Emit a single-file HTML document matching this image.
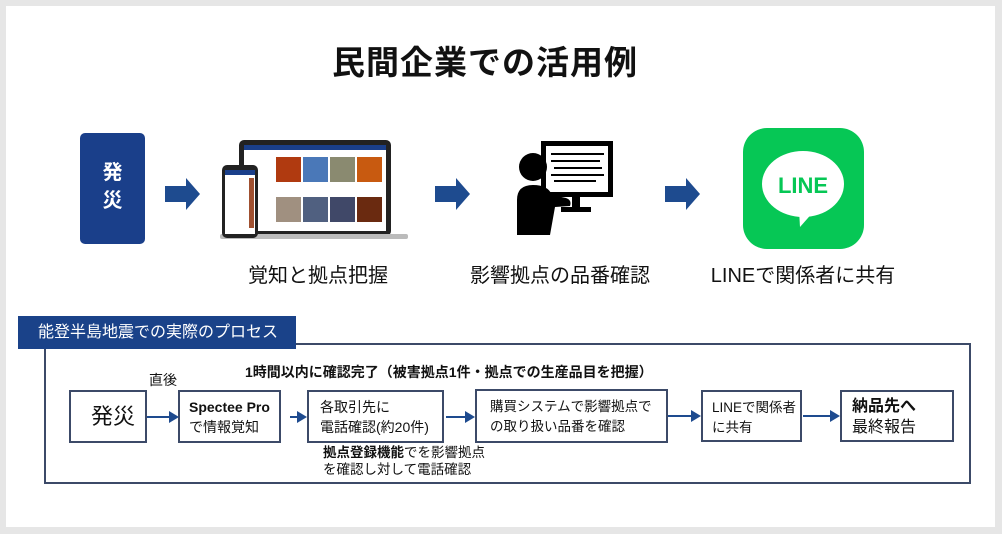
<!DOCTYPE html>
<html><head><meta charset="utf-8"><style>
*{margin:0;padding:0;box-sizing:border-box}
body{width:1002px;height:534px;background:#e6e6e6;position:relative;overflow:hidden;font-family:"Liberation Sans","Noto Sans CJK JP",sans-serif;color:#111}
.card{position:absolute;left:6px;top:6px;width:989px;height:521px;background:#fff}
.a{position:absolute;white-space:nowrap}
.box{position:absolute;border:2px solid #3c4a68;background:#fff;font-size:14px;line-height:20px;padding-left:10px;white-space:nowrap;overflow:visible}
.arr{position:absolute;height:2px;background:#1e4b8f}
.arr:after{content:"";position:absolute;right:-2px;top:-5px;border-left:10px solid #1e4b8f;border-top:6px solid transparent;border-bottom:6px solid transparent}
.big{position:absolute}
</style></head><body>
<div class="card"></div>
<div class="a" style="left:0;width:970px;text-align:center;top:36px;font-size:33px;font-weight:bold;letter-spacing:1px">民間企業での活用例</div>

<div class="a" style="left:80px;top:133px;width:65px;height:111px;background:#1a3f8a;border-radius:5px;color:#fff;font-weight:bold;font-size:20px;line-height:28px;text-align:center;padding-top:26px;white-space:normal">発<br>災</div>

<svg class="big" style="left:0;top:0" width="1002" height="300">
<g fill="#1e4b8f">
<polygon points="165,186 186,186 186,178 200,194 186,210 186,202 165,202"/>
<polygon points="435,186 456,186 456,178 470,194 456,210 456,202 435,202"/>
<polygon points="665,186 686,186 686,178 700,194 686,210 686,202 665,202"/>
</g>
<rect x="239" y="140" width="152" height="96" rx="5" fill="#222"/>
<rect x="244" y="145" width="142" height="86" fill="#fff"/>
<rect x="244" y="145" width="142" height="5" fill="#1a3f8a"/>
<rect x="220" y="234" width="188" height="5" rx="2" fill="#bbb"/>
<g>
<rect x="276" y="157" width="25" height="25" fill="#b03a10"/>
<rect x="303" y="157" width="25" height="25" fill="#4a78b8"/>
<rect x="330" y="157" width="25" height="25" fill="#8a8a70"/>
<rect x="357" y="157" width="25" height="25" fill="#c85a10"/>
<rect x="276" y="197" width="25" height="25" fill="#a09080"/>
<rect x="303" y="197" width="25" height="25" fill="#506080"/>
<rect x="330" y="197" width="25" height="25" fill="#404868"/>
<rect x="357" y="197" width="25" height="25" fill="#6a2a10"/>
</g>
<rect x="222" y="165" width="36" height="73" rx="5" fill="#222"/>
<rect x="225" y="170" width="30" height="64" fill="#fff"/>
<rect x="225" y="170" width="30" height="5" fill="#1a3f8a"/>
<rect x="249" y="178" width="5" height="50" fill="#a05030"/>
<rect x="541" y="141" width="72" height="56" fill="#000"/>
<rect x="546" y="146" width="62" height="46" fill="#fff"/>
<g stroke="#000" stroke-width="2"><line x1="551" y1="154" x2="604" y2="154"/><line x1="551" y1="161" x2="600" y2="161"/><line x1="554" y1="168" x2="602" y2="168"/><line x1="551" y1="175" x2="604" y2="175"/><line x1="554" y1="181" x2="596" y2="181"/></g>
<rect x="572" y="197" width="8" height="12" fill="#000"/>
<rect x="561" y="207" width="30" height="5" fill="#000"/>
<circle cx="533" cy="167" r="14" fill="#000"/>
<path d="M517 235 V200 Q517 185 533 185 Q548 185 552 195 L566 198 Q572 200 570 206 L555 207 L550 235 Z" fill="#000"/>
<rect x="743" y="128" width="121" height="121" rx="24" fill="#06c755"/>
<ellipse cx="803" cy="184" rx="41" ry="33" fill="#fff"/>
<polygon points="799,210 815,210 800,227" fill="#fff"/>
<text x="803" y="193" text-anchor="middle" font-family="Liberation Sans" font-weight="bold" font-size="22" fill="#06c755">LINE</text>
</svg>

<div class="a" style="left:218px;width:200px;text-align:center;top:259px;font-size:20px">覚知と拠点把握</div>
<div class="a" style="left:440px;width:240px;text-align:center;top:259px;font-size:20px">影響拠点の品番確認</div>
<div class="a" style="left:693px;width:220px;text-align:center;top:259px;font-size:20px">LINEで関係者に共有</div>

<div class="a" style="left:44px;top:343px;width:927px;height:141px;border:2px solid #3c4a68"></div>
<div class="a" style="left:18px;top:316px;width:278px;height:33px;background:#1a4289;color:#fff;font-size:16px;line-height:33px;padding-left:20px">能登半島地震での実際のプロセス</div>

<div class="a" style="left:245px;top:362px;font-size:14px;font-weight:bold">1時間以内に確認完了（被害拠点1件・拠点での生産品目を把握）</div>
<div class="a" style="left:149px;top:370px;font-size:14px">直後</div>

<div class="box" style="left:69px;top:390px;width:78px;height:53px;font-size:22px;line-height:49px;padding-left:20px">発災</div>
<div class="box" style="left:178px;top:390px;width:103px;height:53px;padding-top:5px;padding-left:9px"><b>Spectee Pro</b><br>で情報覚知</div>
<div class="box" style="left:307px;top:390px;width:137px;height:53px;padding-top:5px;padding-left:11px">各取引先に<br>電話確認(約20件)</div>
<div class="box" style="left:475px;top:389px;width:193px;height:54px;padding-top:6px;padding-left:13px;font-size:13.5px">購買システムで影響拠点で<br>の取り扱い品番を確認</div>
<div class="box" style="left:701px;top:390px;width:101px;height:52px;padding-top:6px;padding-left:9px;font-size:13.5px">LINEで関係者<br>に共有</div>
<div class="box" style="left:840px;top:390px;width:114px;height:52px;padding-top:4px;font-size:16px;line-height:21px"><b>納品先へ</b><br>最終報告</div>

<div class="arr" style="left:147px;top:416px;width:30px"></div>
<div class="arr" style="left:290px;top:416px;width:15px"></div>
<div class="arr" style="left:446px;top:416px;width:27px"></div>
<div class="arr" style="left:668px;top:415px;width:31px"></div>
<div class="arr" style="left:803px;top:415px;width:35px"></div>

<div class="a" style="left:323px;top:444px;font-size:13.5px;line-height:17px"><b>拠点登録機能</b>でを影響拠点<br>を確認し対して電話確認</div>
</body></html>
